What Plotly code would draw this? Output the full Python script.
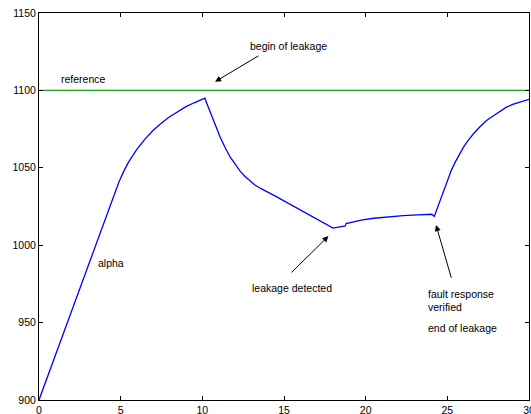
import plotly.graph_objects as go

# Blue curve (alpha)
t = [0, 4.08, 4.9, 5.2, 5.5, 6.0, 6.5, 7.0, 7.5, 8.0, 8.5, 9.0, 9.5, 10.15,
     10.5, 10.8, 11.1, 11.4, 11.7, 12.0, 12.3, 12.6, 12.9, 13.2, 13.6, 14.0, 14.5,
     18.0, 18.4, 18.75, 18.8, 19.2, 19.8, 20.5, 21.3, 22.3, 23.2, 24.05,
     24.2, 24.4, 24.6, 24.8, 25.0, 25.25, 25.5, 25.75, 26.0, 26.3, 26.6,
     27.0, 27.4, 27.8, 28.2, 28.6, 29.0, 29.5, 30.0]
alpha = [900, 1018, 1041, 1048, 1054, 1062, 1068.7, 1074.3, 1079, 1083, 1086.5, 1089.5, 1092, 1095,
         1085.5, 1077.5, 1069.5, 1063, 1057, 1052.5, 1048, 1044.5, 1041.5, 1039, 1036.5, 1034.3, 1031.5,
         1011.0, 1011.8, 1012.5, 1014.0, 1015.0, 1016.3, 1017.4, 1018.3, 1019.1, 1019.6, 1020.0,
         1018.6, 1024.5, 1030.5, 1036.5, 1042, 1048.5, 1054, 1059, 1063.5, 1068, 1072,
         1076.5, 1080.5, 1083.5, 1086.5, 1089, 1091, 1092.8, 1094.2]

# Reference line
ref_t = [0, 30]
ref_val = [1100, 1100]

x_ticks = [0, 5, 10, 15, 20, 25, 30]
y_ticks = [900, 950, 1000, 1050, 1100, 1150]

FONT = "Liberation Sans, Arial, Helvetica, sans-serif"

fig = go.Figure()
fig.add_trace(go.Scatter(x=ref_t, y=ref_val, mode="lines",
                         line=dict(color="#22a022", width=1.3), showlegend=False))
fig.add_trace(go.Scatter(x=t, y=alpha, mode="lines",
                         line=dict(color="#0000ff", width=1.3), showlegend=False))

txt = dict(font=dict(family=FONT, size=10.5, color="black"), showarrow=False,
           xref="x", yref="y")
annos = [
    dict(x=1.22, y=1107.4, text="reference", xanchor="left", yanchor="middle", **txt),
    dict(x=15.25, y=1128.7, text="begin of leakage", xanchor="center", yanchor="middle", **txt),
    dict(x=3.47, y=988.3, text="alpha", xanchor="left", yanchor="middle", **txt),
    dict(x=15.46, y=972.2, text="leakage detected", xanchor="center", yanchor="middle", **txt),
    dict(x=23.68, y=968.3, text="fault response", xanchor="left", yanchor="middle", **txt),
    dict(x=23.68, y=959.9, text="verified", xanchor="left", yanchor="middle", **txt),
    dict(x=23.68, y=946.7, text="end of leakage", xanchor="left", yanchor="middle", **txt),
]
arr = dict(showarrow=True, arrowhead=2, arrowsize=1.2, arrowwidth=1, arrowcolor="black",
           xref="x", yref="y", axref="x", ayref="y", text="")
annos += [
    dict(x=10.78, y=1105.6, ax=13.53, ay=1122.9, **arr),
    dict(x=17.72, y=1005.9, ax=15.37, ay=981.4, **arr),
    dict(x=24.31, y=1013.0, ax=25.27, ay=978.0, **arr),
]

axis_common = dict(showline=True, linecolor="black", linewidth=1, mirror="ticks",
                   ticks="inside", ticklen=4, tickcolor="black", tickwidth=1,
                   showgrid=False, zeroline=False, automargin=False,
                   ticklabeloverflow="allow",
                   tickfont=dict(family=FONT, size=10.5, color="black"))

fig.update_layout(
    width=531, height=414,
    margin=dict(l=39, r=2, t=13, b=14),
    paper_bgcolor="white", plot_bgcolor="white",
    xaxis=dict(range=[0, 30], tickvals=x_ticks, ticktext=[str(v) for v in x_ticks], **axis_common),
    yaxis=dict(range=[900, 1150], tickvals=y_ticks, ticktext=[str(v) for v in y_ticks], **axis_common),
    annotations=annos,
)

fig.write_html("out.html", config={"displayModeBar": False},
               post_script="document.body.style.margin='0';document.body.style.padding='0';document.body.style.overflow='hidden';")
